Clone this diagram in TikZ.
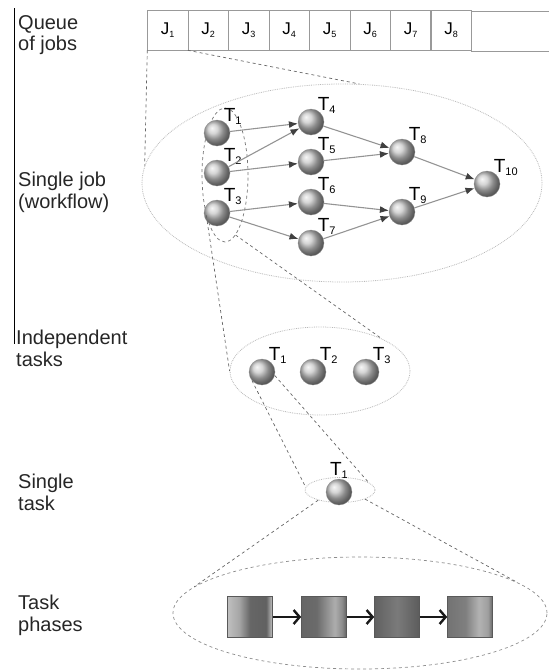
\documentclass[tikz,border=0pt]{standalone}
\usepackage{fontspec}
\setmainfont{Liberation Sans}
\usepackage{tikz}
\usetikzlibrary{matrix, positioning, shapes.geometric, arrows.meta}

\pgfdeclarehorizontalshading{phaseone}{100bp}{color(0bp)=(black!25); color(25bp)=(black!25); color(38bp)=(black!35); color(50bp)=(black!60); color(68bp)=(black!62); color(75bp)=(black!22); color(100bp)=(black!22)}
\pgfdeclarehorizontalshading{phasetwo}{100bp}{color(0bp)=(black!60); color(25bp)=(black!60); color(42bp)=(black!58); color(62bp)=(black!32); color(70bp)=(black!45); color(75bp)=(black!62); color(100bp)=(black!62)}
\pgfdeclarehorizontalshading{phasethree}{100bp}{color(0bp)=(black!62); color(25bp)=(black!62); color(50bp)=(black!52); color(75bp)=(black!64); color(100bp)=(black!64)}
\pgfdeclarehorizontalshading{phasefour}{100bp}{color(0bp)=(black!55); color(25bp)=(black!55); color(45bp)=(black!50); color(60bp)=(black!30); color(70bp)=(black!38); color(75bp)=(black!60); color(100bp)=(black!60)}

\newcommand{\tk}[1]{T\raisebox{-3pt}{\fontsize{11}{11}\selectfont #1}}
\newcommand{\jb}[1]{J\raisebox{-2.5pt}{\fontsize{9}{9}\selectfont #1}}

\begin{document}
\begin{tikzpicture}[x=1pt, y=-1pt,
  level/.style={anchor=north west, align=left, inner sep=0pt,
                font=\fontsize{20}{21.5}\selectfont, text=black!85},
  ball/.style={circle, minimum size=26pt, inner sep=0pt, shading=ball,
               ball color=black!22, draw=black!45, line width=0.3pt, label distance=1.5pt},
  tname/.style={anchor=base west, inner sep=0pt, font=\fontsize{19}{19}\selectfont},
  link/.style={draw=black!42, line width=1.1pt,
               -{Latex[length=9pt, width=7pt, color=black!75]}},
  zoomline/.style={draw=black!60, dashed, line width=0.7pt},
  ring/.style={ellipse, draw=black!28, densely dotted, line width=0.8pt, inner sep=0pt},
  dashring/.style={ellipse, draw=black!55, dashed, line width=0.7pt, inner sep=0pt},
  phase/.style={draw=black!65, line width=0.6pt, minimum width=45pt, minimum height=41pt},
  phasearrow/.style={draw=black!90, line width=2.4pt, -{Straight Barb[length=6pt, width=14pt]}}]
\useasboundingbox (0,0) rectangle (549,670);
\clip (0,0) rectangle (549,670);

% left column
\draw[line width=0.8pt] (14,8) -- (14,344);
\node[level] (lqueue) at (18,15) {Queue\\of jobs};
\node[level] (ljob)   at (18,172) {Single job\\(workflow)};
\node[level] (lind)   at (16,330) {Independent\\tasks};
\node[level] (lsing)  at (18,474) {Single\\task};
\node[level] (lphase) at (18,595) {Task\\phases};

% queue of jobs
\matrix (queue) [matrix of nodes, anchor=north west, inner sep=0pt, outer sep=0pt,
         column sep=-0.6pt,
         nodes={draw=black!40, line width=0.6pt, minimum width=40.5pt,
                minimum height=40pt, inner sep=0pt, font=\fontsize{17}{17}\selectfont}]
  at (147,10)
{
|(j1)| \jb{1} & |(j2)| \jb{2} & |(j3)| \jb{3} & |(j4)| \jb{4} & |(j5)| \jb{5}
 & |(j6)| \jb{6} & |(j7)| \jb{7} & |(j8)| \jb{8} & |[minimum width=82pt](jend)| \strut \\
};

% single job (workflow)
\node[ring, minimum width=400pt, minimum height=198pt] (job) at (342,183) {};
\node[dashring, minimum width=46pt, minimum height=134pt] (grp) at (225,175) {};

\node[ball, label={[tname]60:\tk{1}}]  (t1)  at (217,133) {};
\node[ball, label={[tname]60:\tk{2}}]  (t2)  at (217,173) {};
\node[ball, label={[tname]60:\tk{3}}]  (t3)  at (217,213) {};
\node[ball, label={[tname]60:\tk{4}}]  (t4)  at (311,122) {};
\node[ball, label={[tname]60:\tk{5}}]  (t5)  at (311,162) {};
\node[ball, label={[tname]60:\tk{6}}]  (t6)  at (311,202) {};
\node[ball, label={[tname]60:\tk{7}}]  (t7)  at (311,243) {};
\node[ball, label={[tname]60:\tk{8}}]  (t8)  at (402,152) {};
\node[ball, label={[tname]60:\tk{9}}]  (t9)  at (402,212) {};
\node[ball, label={[tname]60:\tk{10}}] (t10) at (487,184) {};

\foreach \a/\b in {t1/t4, t2/t4, t2/t5, t3/t6, t3/t7, t4/t8, t5/t8, t6/t9, t7/t9, t8/t10, t9/t10}
  \draw[link] (\a) -- (\b);

\draw[zoomline] (j1.south west) -- (job.175);
\draw[zoomline] (j2.south west) -- (job.80);

% independent tasks
\node[ring, minimum width=180pt, minimum height=88pt] (ind) at (320,371) {};
\node[ball, label={[tname]60:\tk{1}}] (i1) at (262,372) {};
\node[ball, label={[tname]60:\tk{2}}] (i2) at (313,372) {};
\node[ball, label={[tname]60:\tk{3}}] (i3) at (366,372) {};

\draw[zoomline] (grp.245) -- (ind.west);
\draw[zoomline] (grp.280) -- (ind.28);

% single task
\node[ring, minimum width=70pt, minimum height=25pt] (single) at (340,490) {};
\node[ball, label={[font=\fontsize{19}{19}\selectfont, inner sep=0pt]90:\tk{1}}] (s1) at (339,492) {};

\draw[zoomline] (i1.220) -- (single.175);
\draw[zoomline] (i1.345) -- (single.15);

% task phases
\node[dashring, draw=black!45, minimum width=374pt, minimum height=112pt] (phases) at (360,613) {};
\node[phase, shading=phaseone]   (p1) at (250,617) {};
\node[phase, shading=phasetwo]   (p2) at (324,617) {};
\node[phase, shading=phasethree] (p3) at (397,617) {};
\node[phase, shading=phasefour]  (p4) at (470,617) {};

\draw[phasearrow] (p1) -- (p2);
\draw[phasearrow] (p2) -- (p3);
\draw[phasearrow] (p3) -- (p4);

\draw[zoomline] (single.205) -- (phases.171);
\draw[zoomline] (single.340) -- (phases.11);
\end{tikzpicture}
\end{document}
